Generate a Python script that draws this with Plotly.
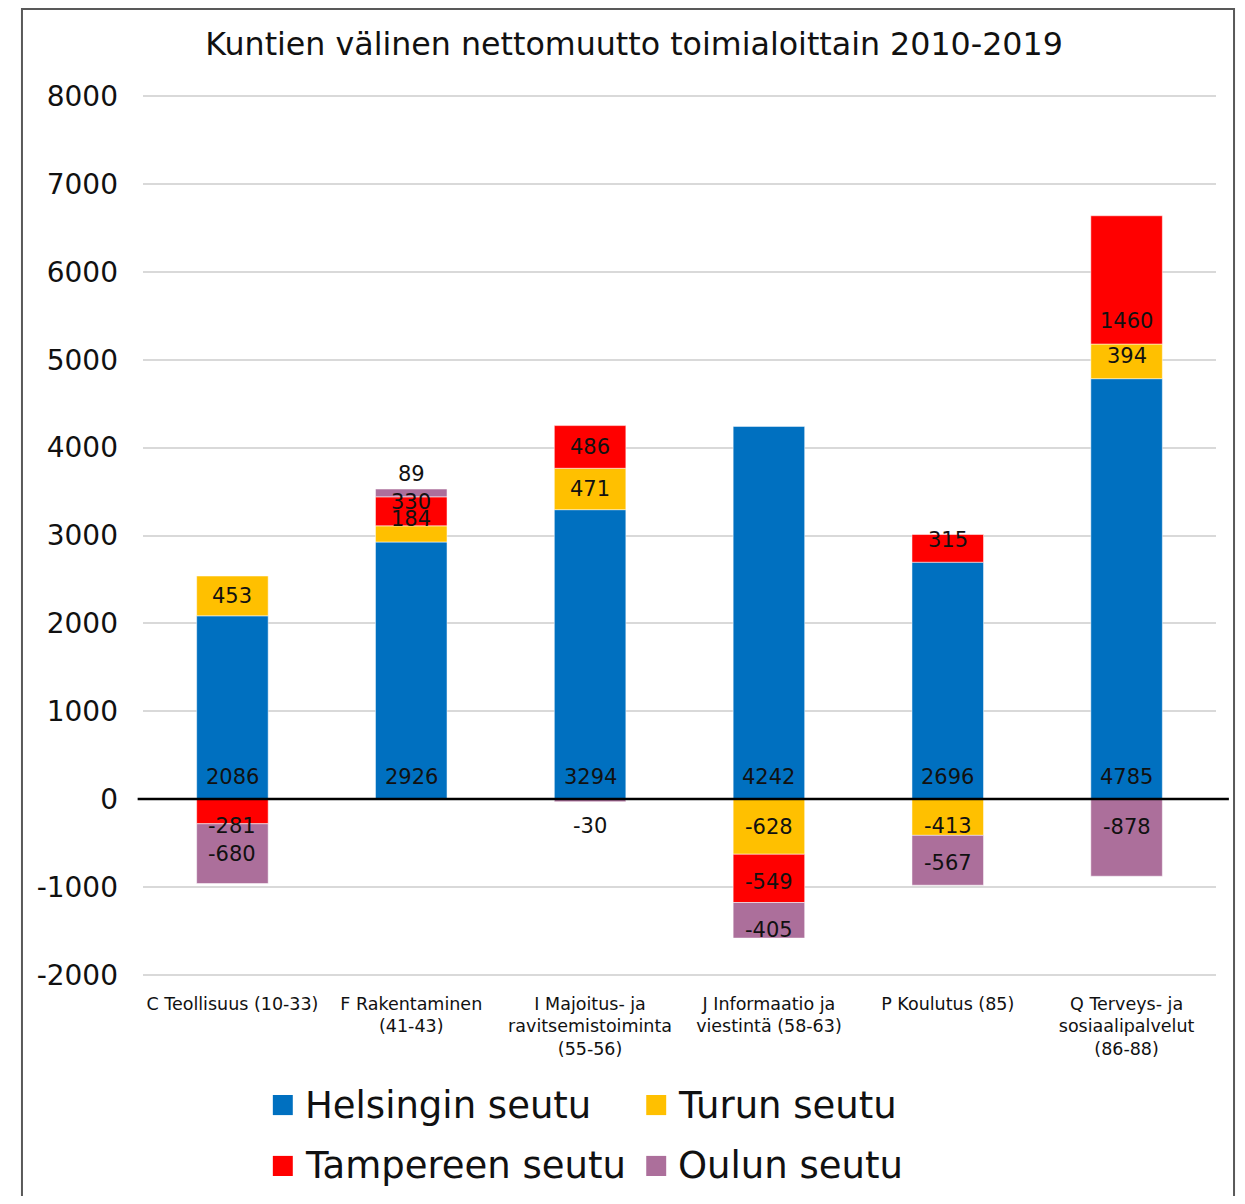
import plotly.graph_objects as go

categories = [
    "C Teollisuus (10-33)",
    "F Rakentaminen<br>(41-43)",
    "I Majoitus- ja<br>ravitsemistoiminta<br>(55-56)",
    "J Informaatio ja<br>viestintä (58-63)",
    "P Koulutus (85)",
    "Q Terveys- ja<br>sosiaalipalvelut<br>(86-88)",
]
series_names = ["Helsingin seutu", "Turun seutu", "Tampereen seutu", "Oulun seutu"]
helsinki = [2086, 2926, 3294, 4242, 2696, 4785]
turku = [453, 184, 471, -628, -413, 394]
tampere = [-281, 330, 486, -549, 315, 1460]
oulu = [-680, 89, -30, -405, -567, -878]
colors = ["#0070C0", "#FFC000", "#FF0000", "#AC6F9B"]
y_ticks = [-2000, -1000, 0, 1000, 2000, 3000, 4000, 5000, 6000, 7000, 8000]
y_tick_text = ["-2000", "-1000", "0", "1000", "2000", "3000", "4000", "5000", "6000", "7000", "8000"]

# pixel nudges for the data labels, like the manually moved Excel labels
label_shift = [
    [22, 22, 22, 22, 22, 22],
    [0, 15, 0, 0, -9, 5],
    [-15, 9, 0, -4, 8, -41],
    [0, 19, -26, -10, -3, 11],
]

FONT = "DejaVu Sans"
all_series = [helsinki, turku, tampere, oulu]

fig = go.Figure()
for name, values, color in zip(series_names, all_series, colors):
    fig.add_trace(
        go.Bar(
            x=categories,
            y=values,
            name=name,
            marker={"color": color, "line": {"color": "rgba(255,255,255,0.5)", "width": 1}},
            showlegend=False,
            hoverinfo="x+y+name",
        )
    )

# data labels at segment centres (relative stacking: positives up, negatives down)
pos = [0.0] * len(categories)
neg = [0.0] * len(categories)
for s, values in enumerate(all_series):
    for i, v in enumerate(values):
        if s == 0:
            y_label = 0
        elif v >= 0:
            y_label = pos[i] + v / 2
        else:
            y_label = neg[i] + v / 2
        if v >= 0:
            pos[i] += v
        else:
            neg[i] += v
        fig.add_annotation(
            x=categories[i],
            y=y_label,
            text=str(v),
            showarrow=False,
            yshift=label_shift[s][i],
            font={"family": FONT, "size": 21, "color": "#111"},
        )

# manual legend with large swatches
legend_pos = [(0.121, -0.145), (0.469, -0.145), (0.121, -0.214), (0.469, -0.214)]
for (lx, ly), name, color in zip(legend_pos, series_names, colors):
    fig.add_shape(
        type="rect", xref="paper", yref="paper",
        x0=lx, x1=lx + 0.0186, y0=ly - 0.0114, y1=ly + 0.0114,
        fillcolor=color, line={"width": 0},
    )
    fig.add_annotation(
        xref="paper", yref="paper", x=lx + 0.028, y=ly,
        xanchor="left", yanchor="middle", text=name, showarrow=False,
        font={"family": FONT, "size": 37, "color": "#111"},
    )

# zero line and outer frame
fig.add_shape(type="line", xref="paper", yref="y", x0=-0.005, x1=1.012, y0=0, y1=0,
              line={"color": "#000", "width": 2.5})
fig.add_shape(type="rect", xref="paper", yref="paper", x0=-0.1128, x1=1.0168,
              y0=-0.3, y1=1.0962, line={"color": "#595959", "width": 2})

# the page body has an 8px margin, so the figure is kept 16px smaller than the window
fig.update_layout(
    barmode="relative",
    bargap=0.6,
    width=1229,
    height=1188,
    paper_bgcolor="white",
    plot_bgcolor="white",
    margin={"l": 135, "r": 21, "t": 86, "b": 219},
    font={"family": FONT, "color": "#111"},
    title={
        "text": "Kuntien välinen nettomuutto toimialoittain 2010-2019",
        "x": 0.5094, "xanchor": "center", "y": 0.9697, "yanchor": "middle",
        "font": {"family": FONT, "size": 31.7, "color": "#111"},
    },
    showlegend=False,
)
fig.update_yaxes(
    range=[-2025, 8025], tickvals=y_ticks, ticktext=y_tick_text,
    showgrid=True, gridcolor="#D9D9D9", gridwidth=2,
    zeroline=False, tickfont={"size": 28, "family": FONT, "color": "#111"},
    ticklabelstandoff=24,
)
fig.update_xaxes(
    showgrid=False, showline=False, ticklabelstandoff=14,
    tickfont={"size": 17.5, "family": FONT, "color": "#111"},
)

fig.write_html("out.html")
